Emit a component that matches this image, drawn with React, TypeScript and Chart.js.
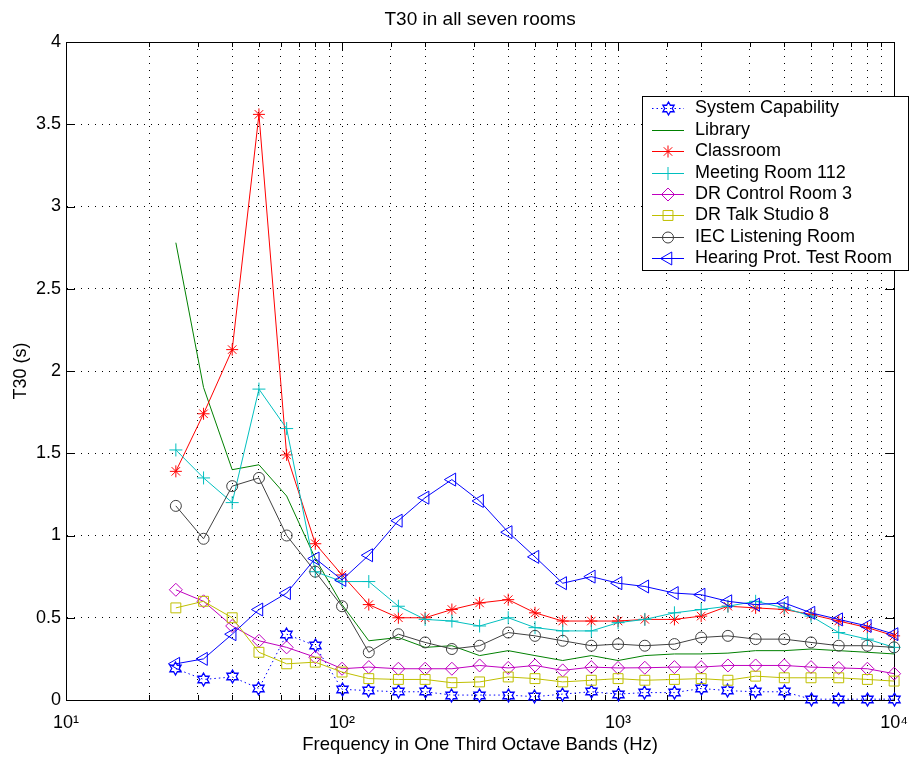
import React, { useEffect, useRef } from 'react';
import { Chart, registerables } from 'chart.js';
import { drawPoint } from 'chart.js/helpers';

Chart.register(...registerables);

const FONT = '"Liberation Sans", Arial, Helvetica, sans-serif';

// One-third octave band centre frequencies (Hz)
const frequencies = [25, 31.5, 40, 50, 63, 80, 100, 125, 160, 200, 250, 315, 400, 500, 630, 800, 1000, 1250, 1600, 2000, 2500, 3150, 4000, 5000, 6300, 8000, 10000];

const seriesLabels = [
  'System Capability',
  'Library',
  'Classroom',
  'Meeting Room 112',
  'DR Control Room 3',
  'DR Talk Studio 8',
  'IEC Listening Room',
  'Hearing Prot. Test Room',
];

const systemCapability = [0.19, 0.125, 0.14, 0.07, 0.40, 0.33, 0.065, 0.057, 0.05, 0.05, 0.03, 0.03, 0.03, 0.02, 0.036, 0.05, 0.036, 0.045, 0.045, 0.07, 0.057, 0.05, 0.05, 0.005, 0.005, 0.005, 0.005];
const library = [2.78, 1.90, 1.40, 1.43, 1.24, 0.86, 0.58, 0.36, 0.38, 0.32, 0.33, 0.27, 0.30, 0.27, 0.24, 0.27, 0.24, 0.27, 0.28, 0.28, 0.285, 0.30, 0.30, 0.31, 0.30, 0.29, 0.28];
const classroom = [1.39, 1.74, 2.13, 3.56, 1.49, 0.95, 0.76, 0.58, 0.50, 0.50, 0.55, 0.59, 0.61, 0.53, 0.48, 0.48, 0.48, 0.49, 0.49, 0.51, 0.57, 0.56, 0.55, 0.52, 0.48, 0.44, 0.39];
const meetingRoom112 = [1.52, 1.35, 1.20, 1.89, 1.65, 0.78, 0.72, 0.72, 0.57, 0.49, 0.48, 0.45, 0.50, 0.44, 0.42, 0.42, 0.47, 0.49, 0.53, 0.55, 0.57, 0.60, 0.56, 0.51, 0.41, 0.37, 0.32];
const drControlRoom3 = [0.67, 0.60, 0.45, 0.36, 0.32, 0.26, 0.19, 0.20, 0.19, 0.19, 0.19, 0.21, 0.195, 0.21, 0.18, 0.20, 0.195, 0.196, 0.20, 0.20, 0.21, 0.21, 0.21, 0.20, 0.195, 0.19, 0.16];
const drTalkStudio8 = [0.56, 0.60, 0.50, 0.29, 0.22, 0.23, 0.17, 0.13, 0.125, 0.125, 0.105, 0.11, 0.14, 0.13, 0.11, 0.12, 0.13, 0.12, 0.125, 0.13, 0.12, 0.145, 0.135, 0.135, 0.135, 0.125, 0.115];
const iecListeningRoom = [1.18, 0.98, 1.30, 1.35, 1.00, 0.78, 0.57, 0.29, 0.40, 0.35, 0.31, 0.33, 0.41, 0.39, 0.36, 0.33, 0.34, 0.33, 0.34, 0.38, 0.39, 0.37, 0.37, 0.35, 0.33, 0.33, 0.32];
const hearingProtTestRoom = [0.22, 0.25, 0.40, 0.55, 0.65, 0.86, 0.73, 0.88, 1.09, 1.23, 1.34, 1.21, 1.02, 0.87, 0.71, 0.75, 0.71, 0.69, 0.65, 0.64, 0.60, 0.58, 0.59, 0.53, 0.49, 0.45, 0.40];

const seriesValues = [systemCapability, library, classroom, meetingRoom112, drControlRoom3, drTalkStudio8, iecListeningRoom, hearingProtTestRoom];

const xTickLabels: Record<number, string> = { 10: '10\u00B9', 100: '10\u00B2', 1000: '10\u00B3', 10000: '10\u2074' };
const yTickValues = [0, 0.5, 1, 1.5, 2, 2.5, 3, 3.5, 4];

function makeHexagram(color: string, r: number): HTMLCanvasElement {
  const size = 17;
  const c = document.createElement('canvas');
  c.width = size;
  c.height = size;
  const ctx = c.getContext('2d')!;
  const cx = size / 2, cy = size / 2;
  ctx.beginPath();
  for (let k = 0; k < 12; k++) {
    const ang = -Math.PI / 2 + (k * Math.PI) / 6;
    const rr = k % 2 === 0 ? r : r / Math.sqrt(3);
    const px = cx + rr * Math.cos(ang);
    const py = cy + rr * Math.sin(ang);
    if (k === 0) ctx.moveTo(px, py);
    else ctx.lineTo(px, py);
  }
  ctx.closePath();
  ctx.strokeStyle = color;
  ctx.lineWidth = 1.3;
  ctx.stroke();
  return c;
}

const framePlugin = {
  id: 'matlabFrame',
  beforeDatasetsDraw(chart: any) {
    const { ctx, chartArea } = chart;
    const { left, right, top, bottom } = chartArea;
    const xs = chart.scales.x;
    const ys = chart.scales.y;
    ctx.save();
    ctx.strokeStyle = '#000';
    ctx.lineWidth = 1;
    ctx.setLineDash([]);
    ctx.beginPath();
    xs.ticks.forEach((t: any) => {
      const v = t.value;
      const px = Math.round(xs.getPixelForValue(v)) + 0.5;
      const major = Math.abs(Math.log10(v) - Math.round(Math.log10(v))) < 1e-9;
      const len = major ? 9 : 5;
      ctx.moveTo(px, bottom);
      ctx.lineTo(px, bottom - len);
      ctx.moveTo(px, top);
      ctx.lineTo(px, top + len);
    });
    ys.ticks.forEach((t: any) => {
      const py = Math.round(ys.getPixelForValue(t.value)) + 0.5;
      ctx.moveTo(left, py);
      ctx.lineTo(left + 9, py);
      ctx.moveTo(right, py);
      ctx.lineTo(right - 9, py);
    });
    ctx.stroke();
    ctx.beginPath();
    ctx.rect(Math.round(left) + 0.5, Math.round(top) + 0.5, Math.round(right - left), Math.round(bottom - top));
    ctx.stroke();
    ctx.restore();
    // crisp image markers (hexagrams)
    ctx.imageSmoothingEnabled = false;
  },
};

const legendPlugin = {
  id: 'insetLegend',
  afterDraw(chart: any) {
    const ctx = chart.ctx;
    const bx = 642, by = 96, bw = 267, bh = 175;
    ctx.save();
    ctx.fillStyle = '#fff';
    ctx.fillRect(bx, by, bw, bh);
    ctx.strokeStyle = '#000';
    ctx.lineWidth = 1;
    ctx.setLineDash([]);
    ctx.strokeRect(bx + 0.5, by + 0.5, bw - 1, bh - 1);
    chart.data.datasets.forEach((ds: any, i: number) => {
      const y = Math.round(108.3 + i * 21.43) + 0.5;
      ctx.strokeStyle = ds.borderColor;
      ctx.lineWidth = ds.borderWidth;
      ctx.setLineDash(ds.borderDash || []);
      ctx.beginPath();
      ctx.moveTo(652, y);
      ctx.lineTo(684, y);
      ctx.stroke();
      ctx.setLineDash([]);
      if (ds.pointRadius > 0) {
        ctx.strokeStyle = ds.borderColor;
        ctx.fillStyle = 'rgba(0,0,0,0)';
        ctx.lineWidth = 1;
        drawPoint(ctx, { pointStyle: ds.pointStyle, rotation: ds.pointRotation || 0, radius: ds.pointRadius, borderWidth: 1 } as any, 668, y);
      }
      ctx.fillStyle = '#000';
      ctx.font = `18px ${FONT}`;
      ctx.textBaseline = 'middle';
      ctx.textAlign = 'left';
      ctx.fillText(ds.label, 695, y);
    });
    ctx.restore();
  },
};

export default function App() {
  const ref = useRef<HTMLCanvasElement>(null);

  useEffect(() => {
    const hex = makeHexagram('#0000ff', 6.5);
    const styles = [
      { color: '#0000ff', pointStyle: hex, radius: 6.5, dash: [1.5, 3] },
      { color: '#008000', pointStyle: 'circle', radius: 0, dash: [] },
      { color: '#ff0000', pointStyle: 'star', radius: 6, dash: [] },
      { color: '#00bfbf', pointStyle: 'cross', radius: 6.5, dash: [] },
      { color: '#bf00bf', pointStyle: 'rectRot', radius: 6.5, dash: [] },
      { color: '#bfbf00', pointStyle: 'rect', radius: 7, dash: [] },
      { color: '#404040', pointStyle: 'circle', radius: 5.5, dash: [] },
      { color: '#0000ff', pointStyle: 'triangle', radius: 7.5, dash: [], rotation: -90 },
    ];

    const datasets = seriesLabels.map((label, i) => {
      const s: any = styles[i];
      return {
        label,
        data: frequencies.map((f, j) => ({ x: f, y: seriesValues[i][j] })),
        borderColor: s.color,
        backgroundColor: 'rgba(0,0,0,0)',
        borderWidth: 1,
        borderDash: s.dash,
        pointStyle: s.pointStyle,
        pointRadius: s.radius,
        pointRotation: s.rotation || 0,
        pointBorderColor: s.color,
        pointBackgroundColor: 'rgba(0,0,0,0)',
        pointBorderWidth: 1,
        tension: 0,
        fill: false,
        clip: false,
        order: seriesLabels.length - i,
      };
    });

    const chart = new Chart(ref.current!, {
      type: 'line',
      data: { datasets },
      options: {
        responsive: false,
        animation: false,
        devicePixelRatio: 1,
        events: [],
        layout: { padding: { left: 0, right: 18, top: 0, bottom: 0 } },
        plugins: {
          legend: { display: false },
          tooltip: { enabled: false },
          title: {
            display: true,
            fullSize: false,
            text: 'T30 in all seven rooms',
            color: '#000',
            font: { family: FONT, size: 19, weight: 'normal' },
            padding: { top: 8.4, bottom: 10.8 },
          },
        },
        scales: {
          x: {
            type: 'logarithmic',
            min: 10,
            max: 10000,
            afterFit: (scale: any) => {
              scale.height = 60;
            },
            grid: { color: '#000', lineWidth: 1, drawTicks: false },
            border: { display: true, color: '#000', width: 1, dash: [1, 6] },
            ticks: {
              autoSkip: false,
              maxRotation: 0,
              minRotation: 0,
              padding: 12,
              color: '#000',
              font: { family: FONT, size: 18 },
              callback: (value: any) => xTickLabels[Number(value)] || '',
            },
            title: {
              display: true,
              text: 'Frequency in One Third Octave Bands (Hz)',
              color: '#000',
              font: { family: FONT, size: 18.5 },
              padding: { top: 0, bottom: 4 },
            },
          },
          y: {
            type: 'linear',
            min: 0,
            max: 4,
            afterFit: (scale: any) => {
              scale.width = 66;
            },
            afterBuildTicks: (scale: any) => {
              scale.ticks = yTickValues.map((v) => ({ value: v }));
            },
            grid: { color: '#000', lineWidth: 1, drawTicks: false },
            border: { display: true, color: '#000', width: 1, dash: [1, 6] },
            ticks: {
              padding: 5,
              color: '#000',
              font: { family: FONT, size: 18 },
              callback: (value: any) => String(value),
            },
            title: {
              display: true,
              text: 'T30 (s)',
              color: '#000',
              font: { family: FONT, size: 18 },
              padding: { top: 10, bottom: 0 },
            },
          },
        },
      } as any,
      plugins: [framePlugin, legendPlugin],
    });

    return () => chart.destroy();
  }, []);

  return (
    <div style={{ position: 'absolute', left: 0, top: 0, width: 920, height: 760, background: '#fff' }}>
      <canvas ref={ref} width={920} height={760} style={{ display: 'block', width: 920, height: 760 }} />
    </div>
  );
}
